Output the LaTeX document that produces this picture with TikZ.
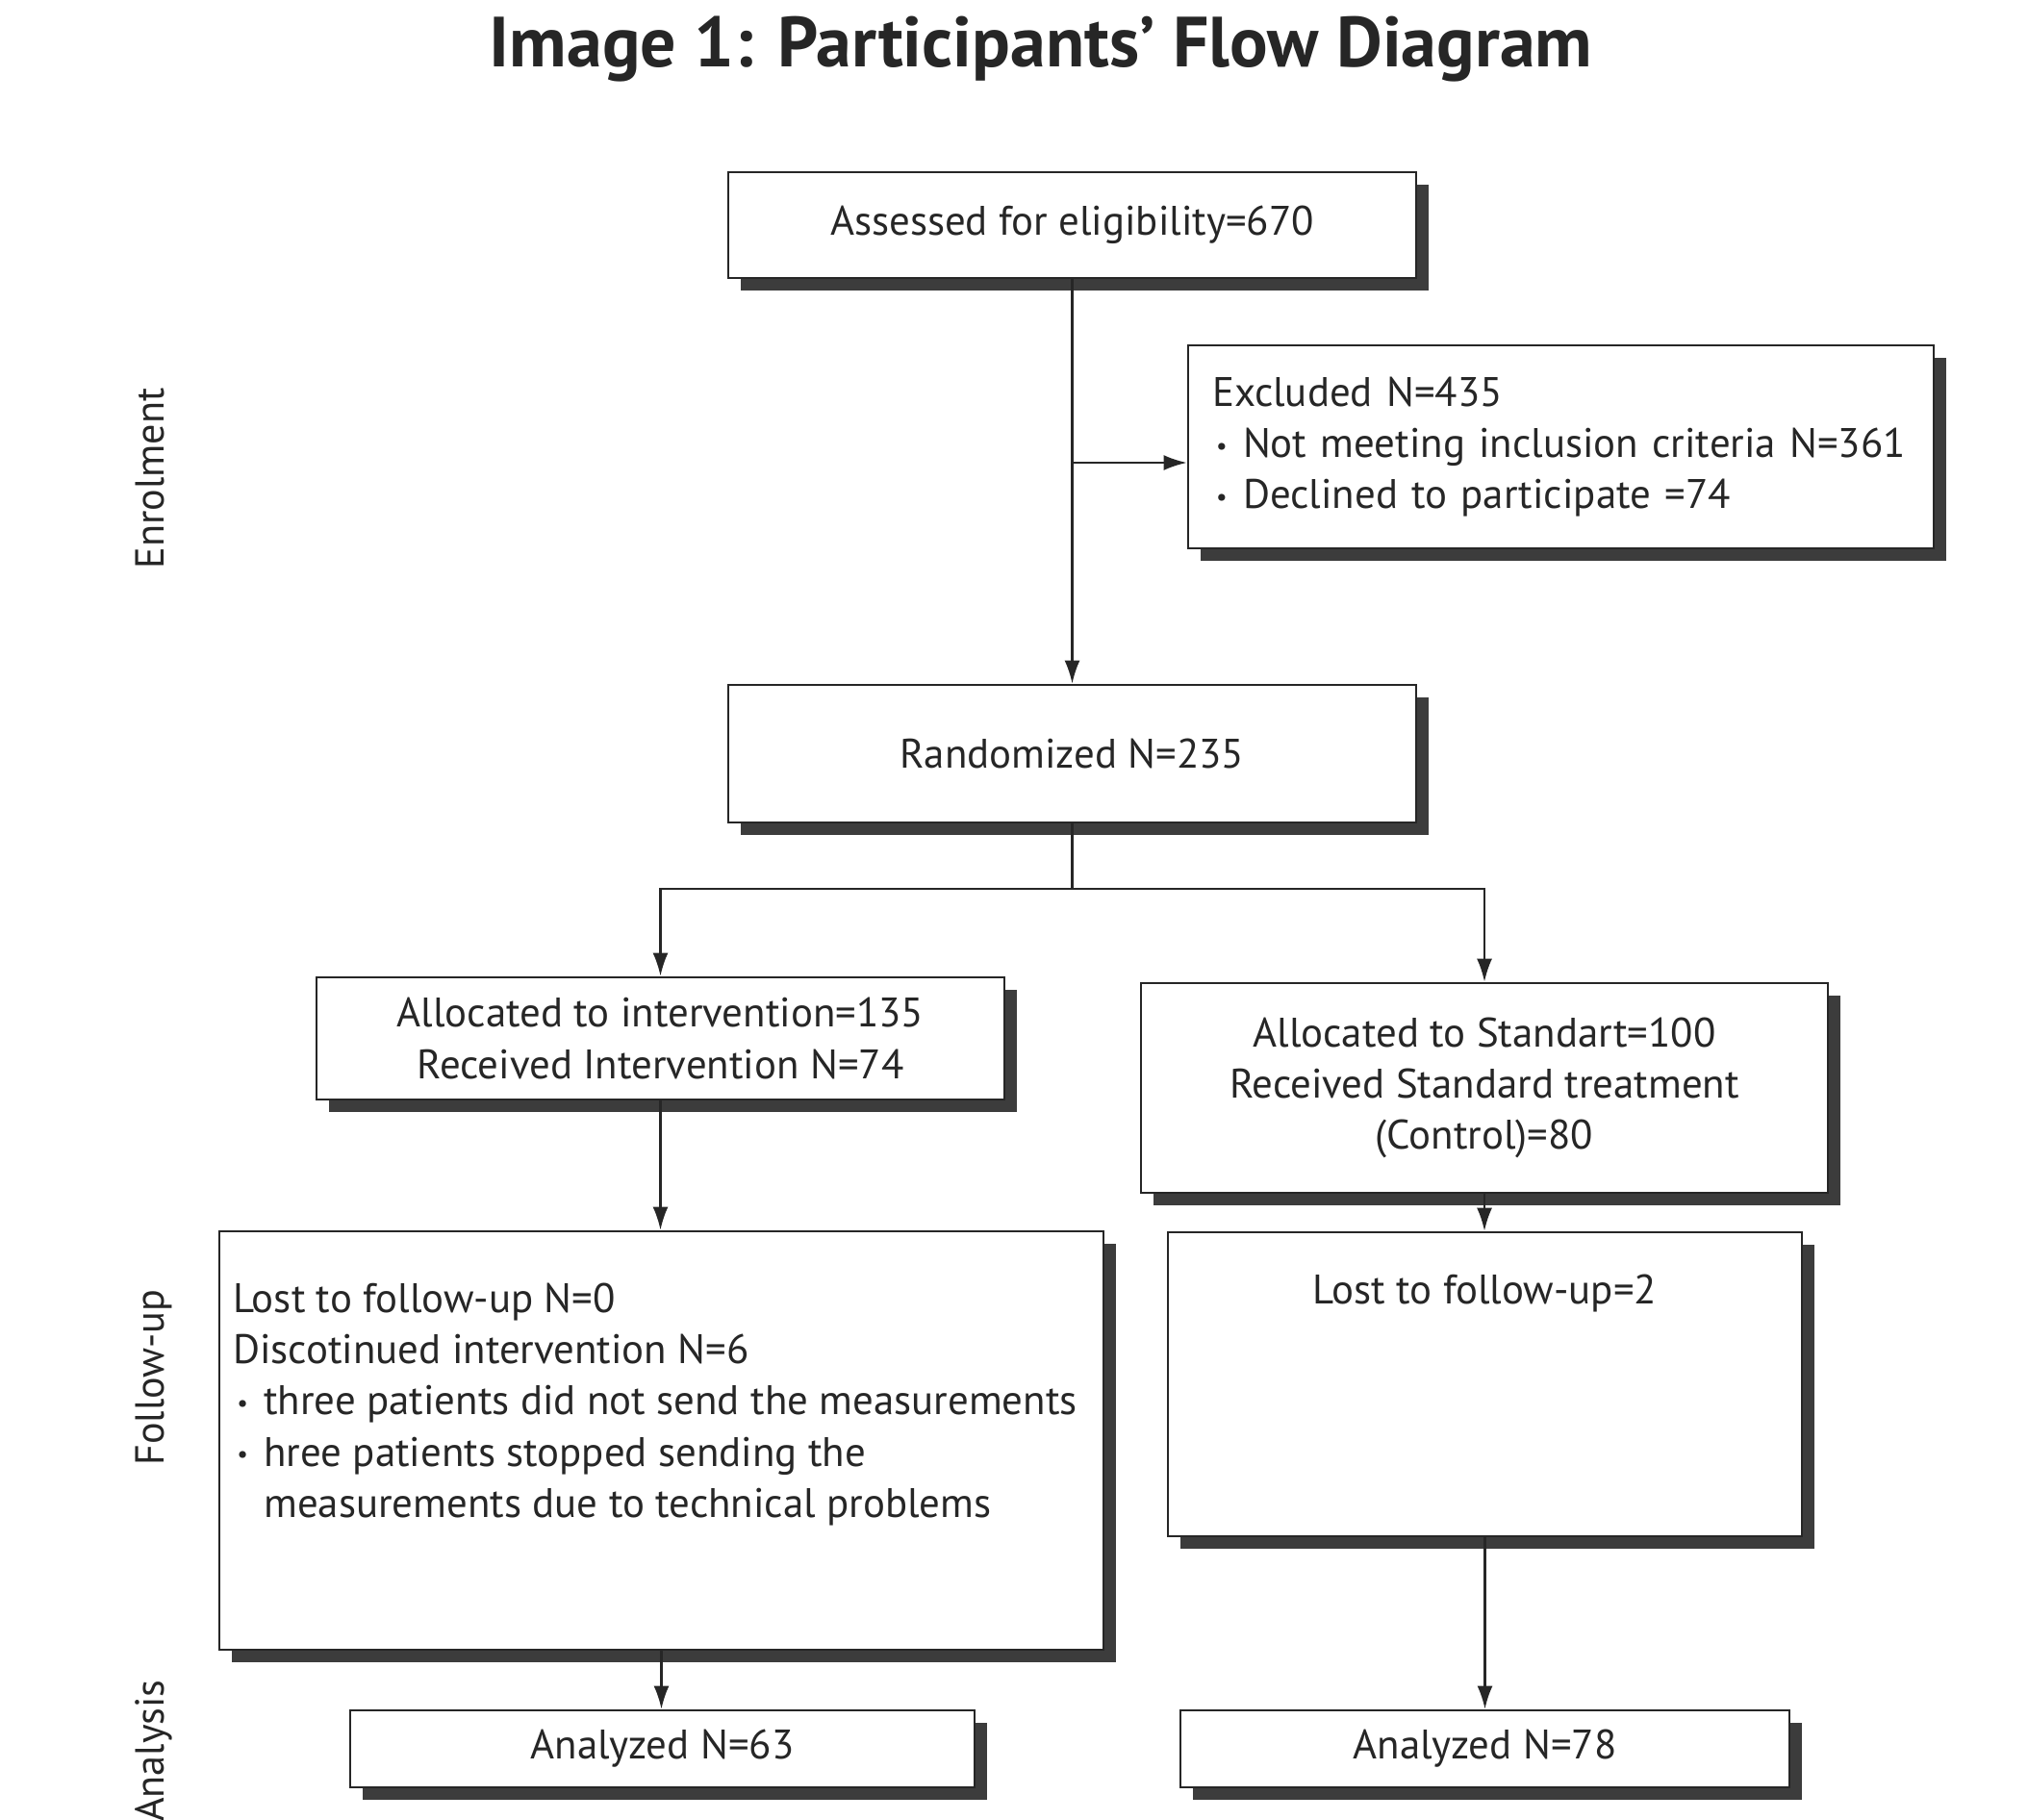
\documentclass[tikz,border=0pt]{standalone}
\usepackage{fontspec}
\setmainfont{PT Sans}
\usetikzlibrary{arrows.meta, positioning, shadows}
\definecolor{inkgray}{HTML}{262626}
\definecolor{shadowgray}{HTML}{3C3C3C}
\tikzset{
	box/.style={draw=inkgray, line width=0.8pt, fill=white, text=inkgray, align=center, inner sep=0pt,
		drop shadow={shadow xshift=0.13cm, shadow yshift=-0.13cm, fill=shadowgray, opacity=1}},
	boxtext/.style={text=inkgray, inner sep=0pt, align=left},
	flow/.style={draw=inkgray, line width=0.6pt},
	flowarrow/.style={flow, -{Latex[length=0.24cm, width=0.16cm]}},
	phase/.style={rotate=90, anchor=base, text=inkgray, font=\fontsize{12}{14}\selectfont},
}
\newcommand{\dotitem}{\makebox[0.32cm][l]{\hspace{0.04cm}\raisebox{0.15ex}{\scalebox{0.6}{•}}}}
\begin{document}
\begin{tikzpicture}[font=\fontsize{12.2}{15.1}\selectfont]
		\clip (0,0) rectangle (21.08,-18.91);
		\node[text=inkgray, font=\fontsize{21}{26}\selectfont\bfseries, anchor=base] (title) at (10.82,-0.70) {Image 1: Participants' Flow Diagram};
		% Enrolment
		\node[box, minimum width=7.15cm, minimum height=1.10cm] (assess) at (11.145,-2.34) {Assessed for eligibility=670};
		\node[box, minimum width=7.75cm, minimum height=2.11cm, text width=7.25cm, align=left] (excl) at (16.225,-4.645) {Excluded N=435\\ \dotitem Not meeting inclusion criteria N=361\\ \dotitem Declined to participate =74};
		\node[box, minimum width=7.15cm, minimum height=1.43cm] (rand) at (11.145,-7.835) {Randomized N=235};
		% Allocation
		\node[box, minimum width=7.15cm, minimum height=1.27cm] (allocI) at (6.865,-10.795) {Allocated to intervention=135\\Received Intervention N=74};
		\node[box, minimum width=7.14cm, minimum height=2.18cm] (allocS) at (15.43,-11.31) {Allocated to Standart=100\\Received Standard treatment\\(Control)=80};
		% Follow-up
		\node[box, minimum width=9.19cm, minimum height=4.35cm] (fupI) at (6.875,-14.975) {};
		\node[boxtext, below right=0.55cm and 0.15cm of fupI.north west] (fupItext) {Lost to follow-up N=0\\Discotinued intervention N=6\\ \dotitem three patients did not send the measurements\\ \dotitem hree patients stopped sending the\\ \hspace*{0.32cm}measurements due to technical problems};
		\node[box, minimum width=6.59cm, minimum height=3.16cm] (fupS) at (15.435,-14.39) {};
		\node[boxtext, below=0.45cm of fupS.north] (fupStext) {Lost to follow-up=2};
		% Analysis
		\node[box, minimum width=6.49cm, minimum height=0.80cm] (anaI) at (6.885,-18.18) {Analyzed N=63};
		\node[box, minimum width=6.33cm, minimum height=0.80cm] (anaS) at (15.435,-18.18) {Analyzed N=78};
		% Phase labels
		\node[phase] (enrol) at (1.70,-4.975) {Enrolment};
		\node[phase] (followup) at (1.70,-14.32) {Follow-up};
		\node[phase] (analysis) at (1.70,-18.20) {Analysis};
		% Connectors
		\coordinate (exclbr) at (11.145,-4.81);
		\coordinate (split) at (11.145,-9.24);
		\draw[flowarrow] (assess.south) -- (rand.north);
		\draw[flowarrow] (exclbr) -- (exclbr -| excl.west);
		\draw[flow] (rand.south) -- (split);
		\draw[flowarrow] (split) -| (allocI.north);
		\draw[flowarrow] (split) -| (allocS.north);
		\draw[flowarrow] (allocI.south) -- (allocI.south |- fupI.north);
		\draw[flowarrow] (allocS.south) -- (allocS.south |- fupS.north);
		\draw[flowarrow] (fupI.south) -- (fupI.south |- anaI.north);
		\draw[flowarrow] (fupS.south) -- (fupS.south |- anaS.north);
	\end{tikzpicture}
\end{document}
